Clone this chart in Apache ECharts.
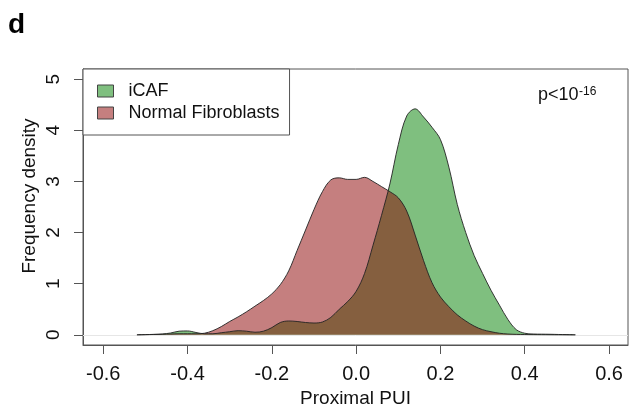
<!DOCTYPE html>
<html>
<head>
<meta charset="utf-8">
<script src="https://cdn.jsdelivr.net/npm/echarts@6/dist/echarts.min.js"></script>
<style>
  html, body { margin: 0; padding: 0; background: #fff; }
  #chart { width: 630px; height: 407px; }
</style>
</head>
<body>
<div id="chart"></div>
<script>
// Proximal PUI grid (x positions of the density estimates)
const puiGrid = [-0.52,-0.50,-0.48,-0.46,-0.44,-0.42,-0.40,-0.38,-0.36,-0.34,-0.32,-0.30,-0.28,-0.26,-0.24,-0.22,-0.20,-0.18,-0.16,-0.14,-0.12,-0.10,-0.08,-0.06,-0.04,-0.02,0.00,0.02,0.04,0.06,0.08,0.10,0.12,0.14,0.16,0.18,0.20,0.22,0.24,0.26,0.28,0.30,0.32,0.34,0.36,0.38,0.40,0.42,0.44,0.46,0.48,0.50,0.52];

// Frequency density, iCAF
const icafDensity = [0.0,0.003,0.008,0.015,0.035,0.07,0.075,0.045,0.02,0.02,0.04,0.06,0.08,0.07,0.05,0.07,0.14,0.24,0.27,0.26,0.24,0.23,0.25,0.34,0.5,0.65,0.85,1.2,1.75,2.33,2.95,3.72,4.28,4.42,4.26,4.06,3.82,3.28,2.55,2.0,1.55,1.2,0.87,0.58,0.3,0.1,0.03,0.015,0.012,0.01,0.006,0.003,0.0];

// Frequency density, normal fibroblasts
const normalDensity = [0.0,0.003,0.006,0.01,0.015,0.02,0.02,0.02,0.03,0.08,0.16,0.26,0.35,0.45,0.56,0.67,0.8,0.98,1.25,1.65,2.05,2.45,2.8,3.03,3.07,3.04,3.04,3.08,3.0,2.9,2.8,2.68,2.42,1.95,1.45,1.02,0.74,0.55,0.39,0.27,0.17,0.1,0.06,0.03,0.015,0.008,0.005,0.003,0.002,0.001,0.0,0.0,0.0];

// Axis ticks
const xTicks = [-0.6, -0.4, -0.2, 0.0, 0.2, 0.4, 0.6];
const yTicks = [0, 1, 2, 3, 4, 5];

const seriesNames = ['iCAF', 'Normal Fibroblasts'];
const fillColors = ['rgba(0,128,0,0.5)', 'rgba(139,0,0,0.5)'];

const toPairs = ys => puiGrid.map((x, i) => [x, ys[i]]);

const FONT = 'Liberation Sans, Arial, Helvetica, sans-serif';
const Y_MIN = -0.2, Y_MAX = 5.2;
const GRID = { left: 83, top: 69, right: 2, bottom: 62 };
const PLOT_WIDTH = 630 - GRID.left - GRID.right;

const chart = echarts.init(document.getElementById('chart'), null, { renderer: 'canvas' });

chart.setOption({
  animation: false,
  backgroundColor: '#fff',
  grid: Object.assign({
    outerBoundsMode: 'none',
    show: true, borderColor: '#555', borderWidth: 1
  }, GRID),
  legend: {
    orient: 'vertical',
    left: 83, top: 69,
    padding: [13, 10, 13, 14],
    itemGap: 4,
    itemWidth: 16, itemHeight: 12,
    borderColor: '#555', borderWidth: 1,
    backgroundColor: '#fff',
    icon: 'rect',
    textStyle: { fontFamily: FONT, fontSize: 18, color: '#111', padding: [0, 0, 0, 10] },
    data: seriesNames.map((n, i) => ({
      name: n,
      itemStyle: { color: fillColors[i], borderColor: '#444', borderWidth: 1 }
    }))
  },
  xAxis: {
    type: 'value',
    min: -0.648, max: 0.645,
    axisLine: { show: true, onZero: false, lineStyle: { color: '#555' } },
    splitLine: { show: false },
    axisTick: { show: true, length: 9, lineStyle: { color: '#555' }, customValues: xTicks },
    axisLabel: {
      fontFamily: FONT, fontSize: 20, color: '#111', margin: 19,
      customValues: xTicks,
      formatter: v => v.toFixed(1)
    },
    name: 'Proximal PUI',
    nameLocation: 'middle',
    nameGap: 44,
    nameTextStyle: { fontFamily: FONT, fontSize: 19, color: '#111' }
  },
  yAxis: [
    {
      // value axis with the rotated tick labels
      type: 'value',
      position: 'left',
      min: Y_MIN, max: Y_MAX,
      axisLine: { show: true, onZero: false, lineStyle: { color: '#555' } },
      splitLine: { show: false },
      axisTick: { show: false },
      axisLabel: {
        fontFamily: FONT, fontSize: 19, color: '#111', margin: 20, rotate: 90,
        customValues: yTicks
      }
    },
    {
      // same scale, shifted onto the left edge, carrying the outward tick marks
      type: 'value',
      position: 'right',
      offset: -PLOT_WIDTH,
      min: Y_MIN, max: Y_MAX,
      axisLine: { show: false, onZero: false },
      splitLine: { show: false },
      axisTick: { show: true, inside: true, length: 9, lineStyle: { color: '#555' }, customValues: yTicks },
      axisLabel: { show: true, customValues: yTicks, formatter: () => '' }
    }
  ],
  series: [
    {
      name: seriesNames[0],
      type: 'line',
      yAxisIndex: 0,
      data: toPairs(icafDensity),
      smooth: 0.35,
      symbol: 'none',
      itemStyle: { color: fillColors[0] },
      lineStyle: { color: '#222', width: 0.9 },
      areaStyle: { color: fillColors[0], opacity: 1, origin: 0 },
      markLine: {
        silent: true,
        symbol: 'none',
        label: { show: false },
        lineStyle: { color: '#e6e6e6', type: 'solid', width: 1 },
        data: [{ yAxis: 0 }],
        z: 1
      }
    },
    {
      name: seriesNames[1],
      type: 'line',
      yAxisIndex: 0,
      data: toPairs(normalDensity),
      smooth: 0.35,
      symbol: 'none',
      itemStyle: { color: fillColors[1] },
      lineStyle: { color: '#222', width: 0.9 },
      areaStyle: { color: fillColors[1], opacity: 1, origin: 0 }
    }
  ],
  graphic: [
    {
      type: 'text', left: 8, top: 11,
      style: { text: 'd', fontFamily: FONT, fontSize: 28, fontWeight: 'bold', fill: '#000' }
    },
    {
      type: 'text', x: 30, y: 196, rotation: Math.PI / 2,
      style: {
        text: 'Frequency density', fontFamily: FONT, fontSize: 19, fill: '#111',
        align: 'center', verticalAlign: 'middle'
      }
    },
    {
      type: 'text', x: 538, y: 86,
      style: {
        text: 'p<10', fontFamily: FONT, fontSize: 18, fill: '#111',
        align: 'left', verticalAlign: 'top'
      }
    },
    {
      type: 'text', x: 579, y: 86,
      style: {
        text: '-16', fontFamily: FONT, fontSize: 12, fill: '#111',
        align: 'left', verticalAlign: 'top'
      }
    }
  ]
});
</script>
</body>
</html>
